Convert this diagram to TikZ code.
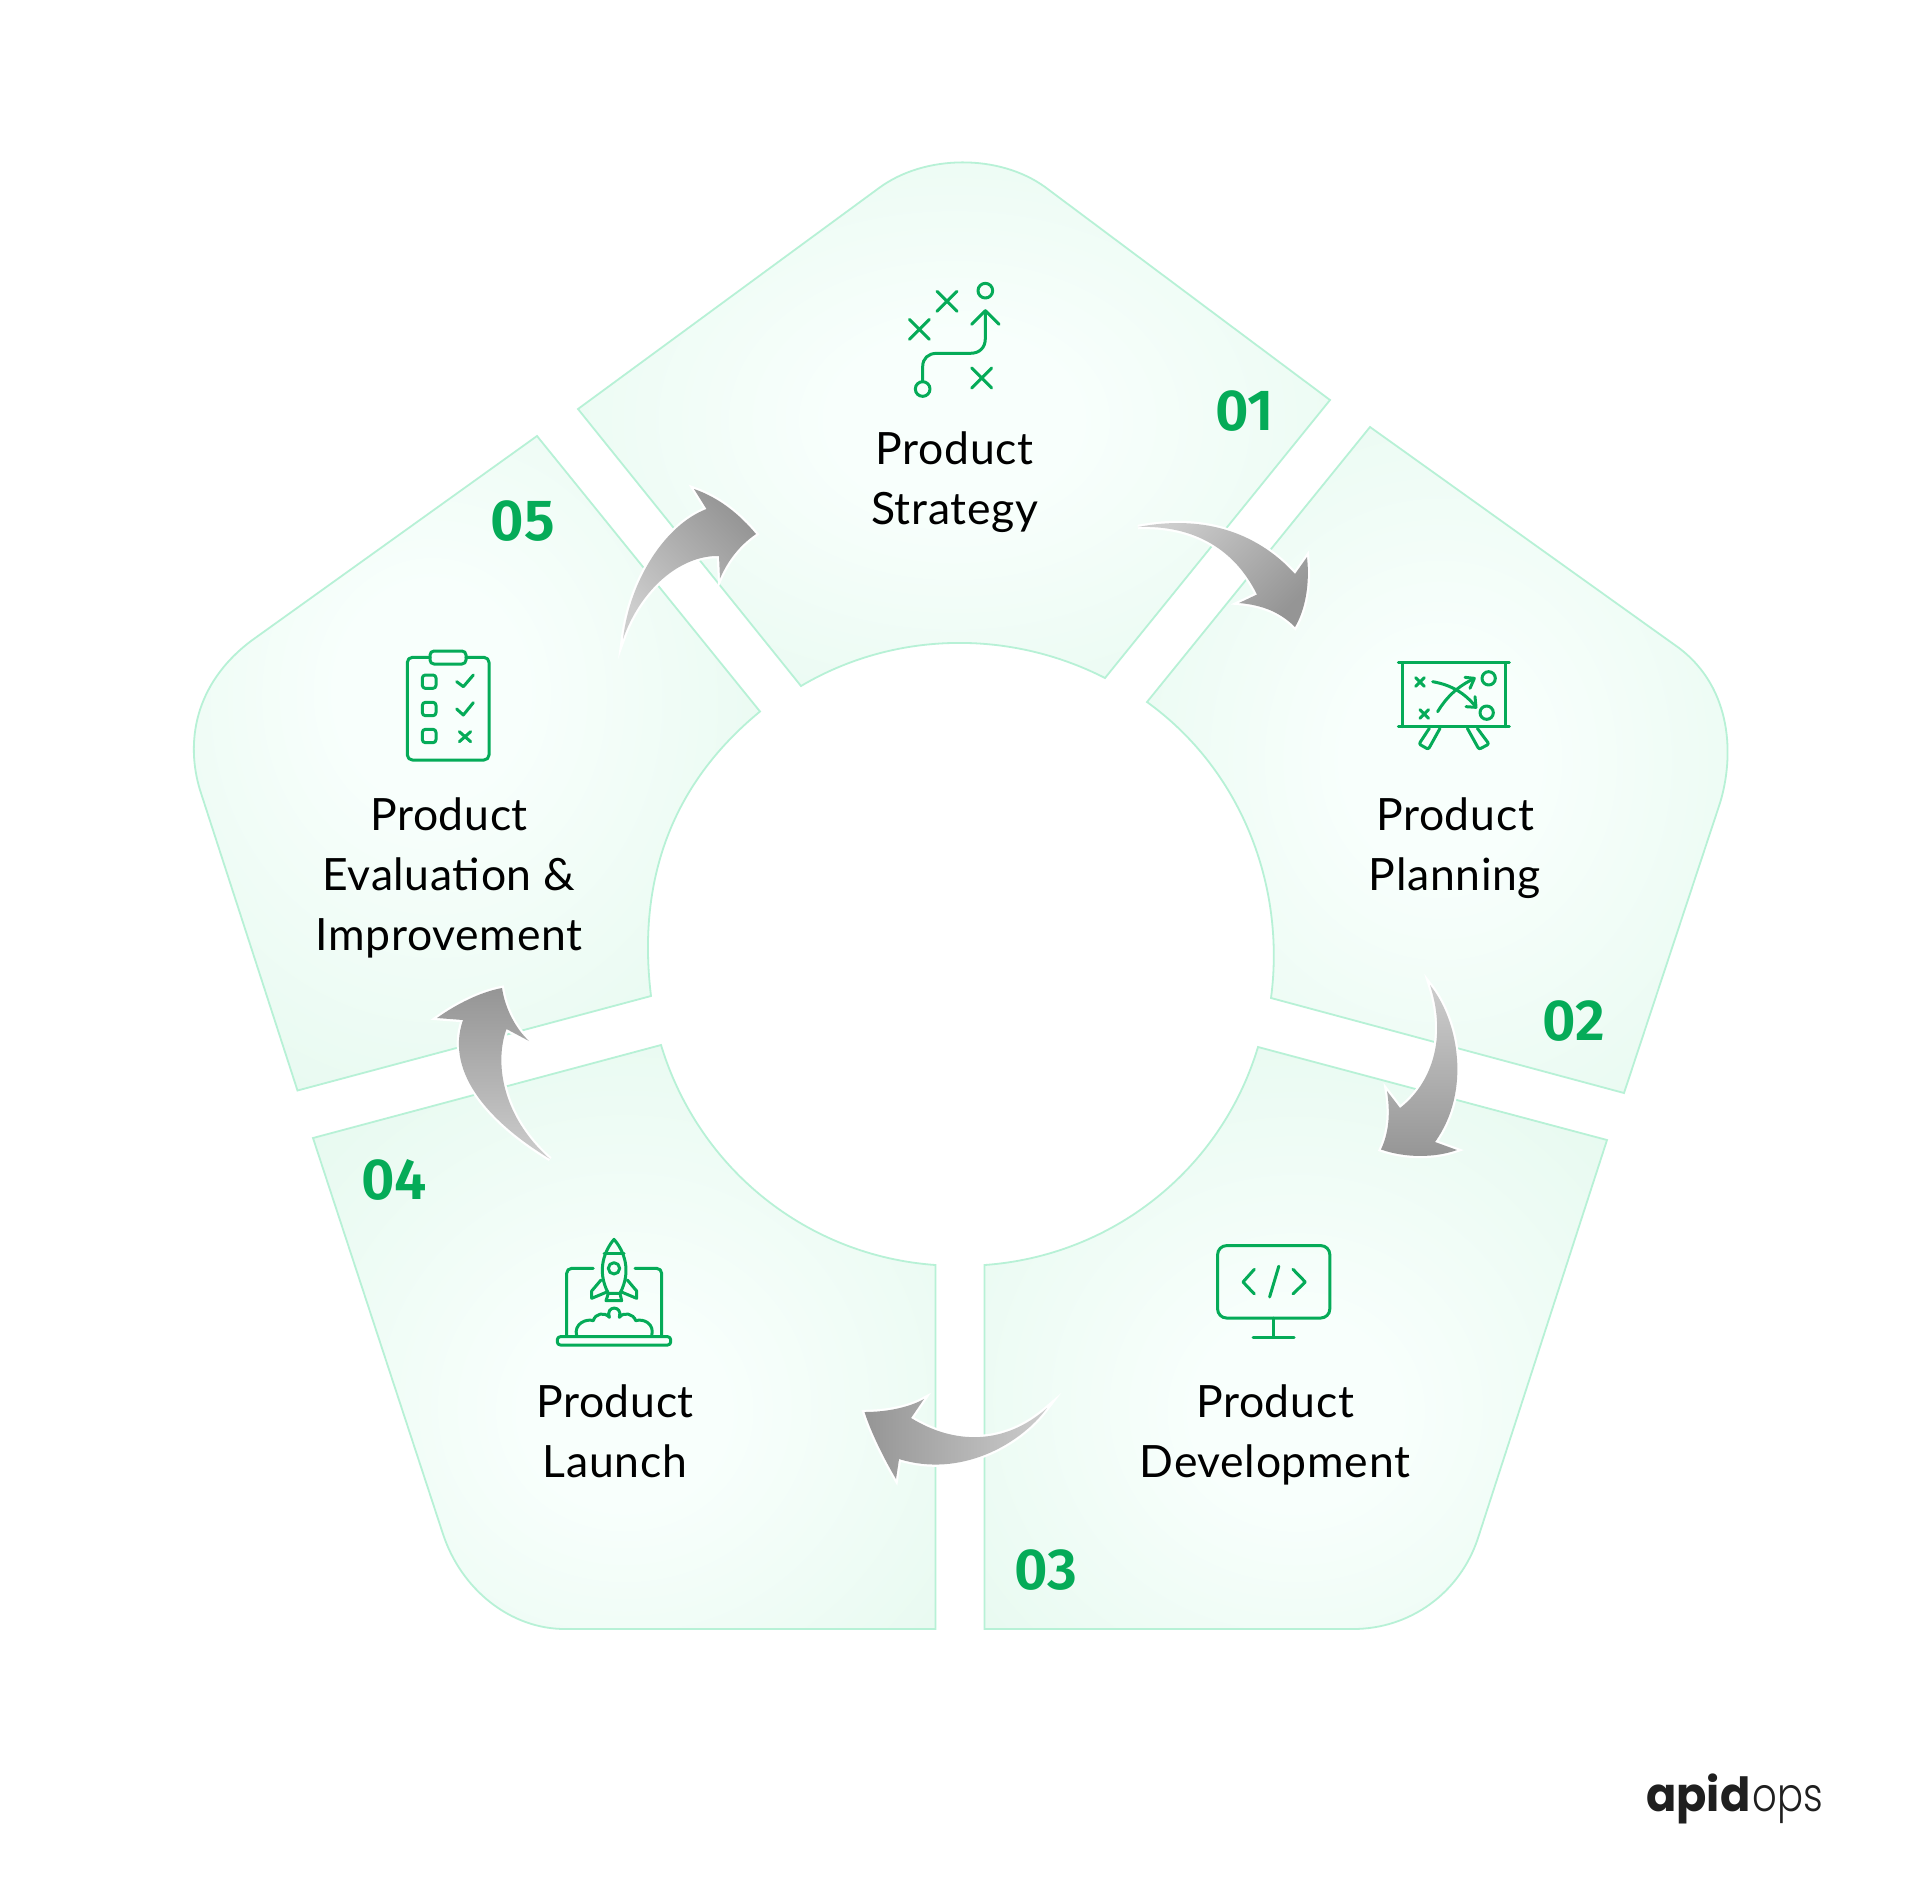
\documentclass[tikz,border=0pt]{standalone}
\usepackage{fontspec}
\setmainfont[LetterSpace=1.5]{Lato}
\newfontfamily\numfont{Fira Sans SemiBold}
\newfontfamily\logofont{Poppins}
\newfontfamily\logolight{Poppins Light}
\definecolor{segedge}{HTML}{B7F1D6}
\definecolor{segouter}{HTML}{E6F9EF}
\definecolor{segcentre}{HTML}{F8FFFC}
\definecolor{icongreen}{HTML}{05AB58}
\definecolor{arrowlight}{HTML}{CDCDCD}
\definecolor{arrowdark}{HTML}{959595}
\pgfdeclareradialshading{segshade}{\pgfpoint{0bp}{0bp}}{color(0bp)=(segcentre); color(8bp)=(segcentre); color(36bp)=(segouter); color(100bp)=(segouter)}
\pgfdeclareradialshading{segshadelow}{\pgfpoint{0bp}{-7bp}}{color(0bp)=(segcentre); color(8bp)=(segcentre); color(36bp)=(segouter); color(100bp)=(segouter)}
\pgfdeclareradialshading{segshadehigh}{\pgfpoint{-4bp}{6bp}}{color(0bp)=(segcentre); color(8bp)=(segcentre); color(36bp)=(segouter); color(100bp)=(segouter)}
\tikzset{
  seg/.style={draw=segedge,line width=1.8pt,shading=segshade},
  flow/.style={preaction={draw=white,line width=4.5pt,line join=miter},top color=arrowlight,bottom color=arrowdark},
  ico/.style={draw=icongreen,line width=3pt,line cap=round,line join=round,fill=none},
  label/.style={align=center,anchor=base,inner sep=0pt,font=\fontsize{44.5}{60}\selectfont,text=black},
  num/.style={anchor=base,inner sep=0pt,font=\fontsize{58}{60}\selectfont\numfont,text=icongreen}
}
\begin{document}
\begin{tikzpicture}[x=1pt,y=-1pt]
\useasboundingbox (0,0) rectangle (1920,1888);
\fill[white] (0,0) rectangle (1920,1888);
% segments
\path[seg] (1105,678) .. controls (1009,629) and (894,631) .. (801,686) -- (578,409) -- (879,188) .. controls (925,154) and (999.5,154) .. (1045,187) -- (1330,400) -- cycle;
\path[seg] (1147,702) .. controls (1240,769) and (1286,884) .. (1271,998) -- (1624,1093) -- (1720,803) .. controls (1734,757) and (1733,689) .. (1679,648) -- (1370,427) -- cycle;
\path[seg,shading=segshadelow] (1258,1047) .. controls (1221,1170) and (1112,1256) .. (984.5,1265) -- (984.5,1629) -- (1353,1629) .. controls (1410,1629) and (1460,1593) .. (1478,1538) -- (1607,1140) -- cycle;
\path[seg,shading=segshadelow] (935.5,1265) .. controls (808,1256) and (699,1170) .. (661,1045) -- (313,1138) -- (443,1534) .. controls (461,1589) and (510,1629) .. (565,1629) -- (935.5,1629) -- cycle;
\path[seg,shading=segshadehigh] (651,996) .. controls (637,881) and (671,784.5) .. (760,711.5) -- (537,436) -- (251,641) .. controls (193,685) and (186,744) .. (200,790) -- (297.5,1090.5) -- cycle;
% labels
\node[label] (lab1) at (954.5,524) {Product\\Strategy};
\node[label] (lab2) at (1455,890) {Product\\Planning};
\node[label] (lab3) at (1275,1477) {Product\\Development};
\node[label] (lab4) at (615,1477) {Product\\Launch};
\node[label] (lab5) at (449,950) {Product\\Evaluation \&\\Improvement};
% numbers
\node[num] (num1) at (1245,430) {01};
\node[num] (num2) at (1574,1040) {02};
\node[num] (num3) at (1046,1589) {03};
\node[num] (num4) at (394,1199) {04};
\node[num] (num5) at (523,540) {05};
% arrows
\path[flow,shading angle=45] (1138,527) .. controls (1200,515) and (1255,530) .. (1295,574) -- (1307,557) .. controls (1310,585) and (1305,610) .. (1295,627) .. controls (1280,612) and (1262,605) .. (1239,603) -- (1257,594.5) .. controls (1235,550) and (1195,525) .. cycle;
\path[flow,shading angle=0] (1430,985) .. controls (1458,1020) and (1472,1090) .. (1435,1142) -- (1457,1150) .. controls (1435,1158) and (1405,1158) .. (1381,1149.5) .. controls (1390,1130) and (1390,1110) .. (1387,1091) -- (1400,1108) .. controls (1430,1085) and (1448,1040) .. cycle;
\path[flow,shading angle=-90] (1047,1408) .. controls (1020,1445) and (960,1478) .. (899,1459) -- (896,1479) .. controls (885,1460) and (872,1435) .. (864.5,1412) .. controls (885,1412) and (908,1408) .. (924,1399) -- (911,1418) .. controls (955,1445) and (1005,1445) .. cycle;
\path[flow,shading angle=180] (550,1159) .. controls (494,1125) and (444,1075) .. (463,1020) -- (437,1018) .. controls (455,1005) and (480,992) .. (502,988) .. controls (505,1008) and (515,1028) .. (529,1041) -- (506.5,1029) .. controls (495,1060) and (500,1115) .. cycle;
\path[flow,shading angle=135] (623,639) .. controls (630,580) and (665,525) .. (706.5,509) -- (694,489) .. controls (720,498) and (740,515) .. (756,534) .. controls (740,545) and (728,560) .. (720,578.5) -- (719,556) .. controls (680,555) and (640,590) .. cycle;
% icon 1
\begin{scope}[shift={(880,270)},x=0.33333pt,y=-0.33333pt]
\draw[ico] (316,62) circle[radius=22];
\draw[ico] (128,357) circle[radius=22];
\draw[ico] (88,148) -- (148,208) (148,148) -- (88,208);
\draw[ico] (171,64) -- (231,124) (231,64) -- (171,124);
\draw[ico] (275,294) -- (335,354) (335,294) -- (275,354);
\draw[ico] (128,335) -- (128,290) .. controls (128,265) and (145,250) .. (170,250) -- (270,250) .. controls (300,250) and (316,232) .. (316,205) -- (316,122);
\draw[ico] (275,163) -- (316,122) -- (357,163);
\end{scope}
% icon 2
\begin{scope}[shift={(1390,650)},x=0.33333pt,y=-0.33333pt]
\draw[ico] (25,38) -- (358,38) (25,230) -- (358,230) (37,38) -- (37,230) (347,38) -- (347,230);
\draw[ico] (77,83) -- (103,109) (103,83) -- (77,109);
\draw[ico] (90,179) -- (116,205) (116,179) -- (90,205);
\draw[ico] (296,85) circle[radius=20];
\draw[ico] (290,188) circle[radius=20];
\draw[ico] (128,95) .. controls (185,105) and (225,130) .. (257,170);
\draw[ico] (255,140) -- (258,172) -- (228,170);
\draw[ico] (143,185) .. controls (170,140) and (205,108) .. (252,86);
\draw[ico] (225,82) -- (253,85) -- (240,115);
\draw[ico,rounded corners=2pt] (150,235) -- (115,298) -- (87,282) -- (118,235);
\draw[ico,rounded corners=2pt] (232,235) -- (267,298) -- (297,282) -- (262,235);
\end{scope}
% icon 3
\draw[ico,rounded corners=9pt] (1217.6,1245.6) rectangle (1329.8,1318);
\draw[ico] (1273.7,1318) -- (1273.7,1337) (1253,1337) -- (1294,1337);
\draw[ico] (1254.3,1269.3) -- (1243,1282) -- (1254.3,1293.9);
\draw[ico] (1293,1269.3) -- (1305.3,1282) -- (1293,1293.9);
\draw[ico] (1278.8,1266.2) -- (1269.6,1297);
% icon 4
\begin{scope}[shift={(540,1230)},x=0.33333pt,y=-0.33333pt]
\draw[ico] (222,28) .. controls (195,60) and (168,120) .. (205,190) -- (240,190) .. controls (277,120) and (250,60) .. cycle;
\draw[ico] (192,70) -- (252,70);
\draw[ico] (222,115) circle[radius=17];
\draw[ico] (183,150) -- (155,183) -- (155,205) -- (203,185);
\draw[ico] (262,150) -- (290,183) -- (290,205) -- (242,185);
\draw[ico] (205,190) -- (198,212) -- (245,212) -- (240,190);
\draw[ico,rounded corners=5pt] (160,115) -- (80,115) -- (80,318);
\draw[ico,rounded corners=5pt] (285,115) -- (365,115) -- (365,318);
\draw[ico,rounded corners=3pt] (52,320) rectangle (392,345);
\draw[ico] (110,318) .. controls (100,280) and (140,265) .. (160,272) .. controls (165,250) and (195,245) .. (208,262) .. controls (195,225) and (250,225) .. (238,262) .. controls (250,245) and (280,250) .. (287,272) .. controls (310,265) and (345,280) .. (335,318);
\end{scope}
% icon 5
\begin{scope}[shift={(390,640)},x=0.33333pt,y=-0.33333pt]
\draw[ico,rounded corners=5pt] (120,52) -- (52,52) -- (52,360) -- (297,360) -- (297,52) -- (228,52);
\draw[ico,rounded corners=4pt] (120,33) rectangle (228,72);
\draw[ico,rounded corners=3pt] (97,105) rectangle (138,145);
\draw[ico,rounded corners=3pt] (97,187) rectangle (138,227);
\draw[ico,rounded corners=3pt] (97,268) rectangle (138,308);
\draw[ico] (200,125) -- (220,140) -- (250,105);
\draw[ico] (200,207) -- (220,225) -- (250,188);
\draw[ico] (208,275) -- (242,305) (242,275) -- (208,305);
\end{scope}
% logo
\node[anchor=base west,inner sep=0pt,font=\fontsize{47}{50}\selectfont,text=black!88] (logo) at (1646,1811) {\scalebox{.95}[1]{\logofont\bfseries apid}\hspace{2pt}\scalebox{.82}[1]{\logolight ops}};
\end{tikzpicture}
\end{document}
